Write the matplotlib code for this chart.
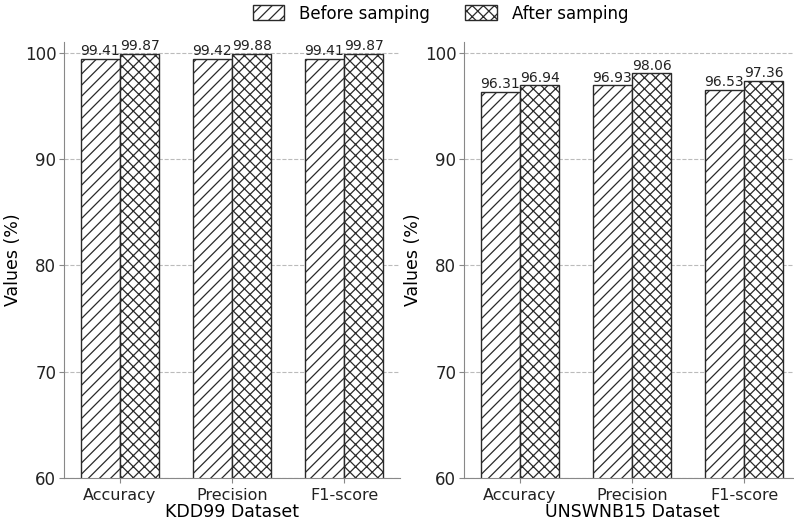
import numpy as np
import matplotlib
matplotlib.use("Agg")
import matplotlib.pyplot as plt

# データ
metrics = ["Accuracy", "Precision", "F1-score"]
kdd_before = [99.41, 99.42, 99.41]
kdd_after = [99.87, 99.88, 99.87]
unsw_before = [96.31, 96.93, 96.53]
unsw_after = [96.94, 98.06, 97.36]
datasets = ["KDD99 Dataset", "UNSWNB15 Dataset"]
legend_labels = ["Before samping", "After samping"]

plt.rcParams["font.family"] = "DejaVu Sans"
plt.rcParams["hatch.linewidth"] = 0.9

fig = plt.figure(figsize=(7.94, 5.24), dpi=100)
ax1 = fig.add_axes([64 / 794, 46 / 524, 336 / 794, 436 / 524])
ax2 = fig.add_axes([464 / 794, 46 / 524, 336 / 794, 436 / 524])

x = np.arange(len(metrics))
w = 0.35

def draw(ax, before, after, name):
    b1 = ax.bar(x - w / 2, before, w, color="white", edgecolor="#2a2a2a",
                hatch="///", linewidth=1.0, label=legend_labels[0])
    b2 = ax.bar(x + w / 2, after, w, color="white", edgecolor="#2a2a2a",
                hatch="xxx", linewidth=1.0, label=legend_labels[1])
    for bars in (b1, b2):
        for b in bars:
            ax.text(b.get_x() + b.get_width() / 2, b.get_height() + 0.05,
                    f"{b.get_height():.2f}", ha="center", va="bottom",
                    fontsize=10, color="#222222")
    ax.set_ylim(60, 101)
    ax.set_xlim(-0.5, 2.5)
    ax.set_xticks(x)
    ax.set_xticklabels(metrics, fontsize=11.5)
    ax.set_yticks([60, 70, 80, 90, 100])
    ax.tick_params(axis="y", labelsize=12, pad=2)
    ax.set_xlabel(name, fontsize=12.5, labelpad=0)
    ax.set_ylabel("Values (%)", fontsize=12.5, labelpad=2)
    ax.yaxis.grid(True, linestyle="--", color="#bbbbbb", linewidth=0.8)
    ax.set_axisbelow(True)
    for s in ["top", "right"]:
        ax.spines[s].set_visible(False)
    for s in ["left", "bottom"]:
        ax.spines[s].set_color("#888888")
    ax.tick_params(colors="#888888", labelcolor="#222222")
    return b1, b2

h = draw(ax1, kdd_before, kdd_after, datasets[0])
draw(ax2, unsw_before, unsw_after, datasets[1])

fig.legend(h, legend_labels, loc="upper center", bbox_to_anchor=(0.555, 1.02),
           ncol=2, frameon=False, fontsize=12, columnspacing=2.1,
           handlelength=1.9, handleheight=1.0, handletextpad=0.9)

fig.savefig("out.png", dpi=100)
